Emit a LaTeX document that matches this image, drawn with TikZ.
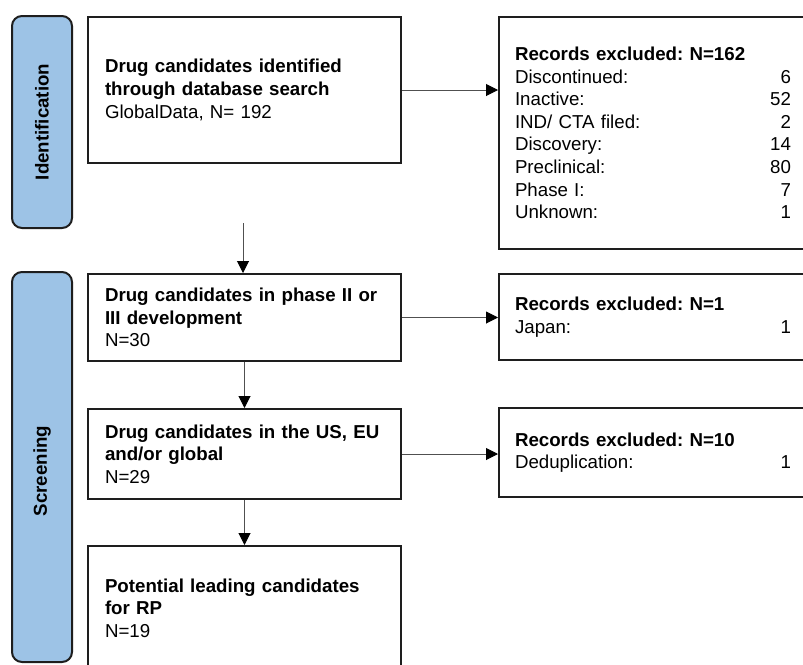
\documentclass[tikz,border=0pt]{standalone}
\usepackage{fontspec}
\setmainfont{Liberation Sans}
\usetikzlibrary{arrows.meta}
\definecolor{pillblue}{HTML}{9DC3E6}
\definecolor{edge}{HTML}{1E1E1E}
\definecolor{arrowgray}{HTML}{505050}
\newcommand{\rowline}[2]{\hbox to 276pt{#1\hfill #2}}
\frenchspacing
\begin{document}
\begin{tikzpicture}[x=1pt,y=-1pt,
  txt/.style={font=\fontsize{18.7}{22.6}\selectfont},
  leftbox/.style={txt, draw=edge, line width=2pt, anchor=north west, minimum width=313pt,
     text width=279pt, inner xsep=16pt, inner ysep=0pt, align=left},
  rightbox/.style={txt, draw=edge, line width=2pt, anchor=north west, minimum width=312pt,
     text width=280pt, inner xsep=16pt, inner ysep=0pt, align=left},
  pill/.style={draw=edge, fill=pillblue, line width=2pt, rounded corners=10pt},
  pilllabel/.style={txt, font=\fontsize{18.7}{22.6}\selectfont\bfseries, rotate=90},
  conn/.style={draw=arrowgray, line width=1pt, -{Triangle[length=12pt,width=12pt,color=black]}}
]
\clip (0,0) rectangle (803,664);
\fill[white] (0,0) rectangle (803,664);

% phase pills
\draw[pill] (12,16) rectangle (72,228);
\node[pilllabel] (idlab) at (42,122) {Identification};
\draw[pill] (12,272) rectangle (72,662);
\node[pilllabel] (sclab) at (42,471) {Screening};

% left column boxes
\node[leftbox, minimum height=146pt] (b1) at (87,16)
  {\textbf{Drug candidates identified}\\ \textbf{through database search}\\ GlobalData, N= 192};
\node[leftbox, minimum height=87pt] (b2) at (87,273)
  {\textbf{Drug candidates in phase II or}\\ \textbf{III development}\\ N=30};
\node[leftbox, minimum height=90pt] (b3) at (87,408)
  {\textbf{Drug candidates in the US, EU}\\ \textbf{and/or global}\\ N=29};
\node[leftbox, minimum height=124pt] (b4) at (87,545)
  {\textbf{Potential leading candidates}\\ \textbf{for RP}\\ N=19};

% right column boxes
\node[rightbox, minimum height=232pt] (r1) at (498,16)
  {\textbf{Records excluded: N=162}\\
   \rowline{Discontinued:}{6}\rowline{Inactive:}{52}\rowline{IND/ CTA filed:}{2}%
   \rowline{Discovery:}{14}\rowline{Preclinical:}{80}\rowline{Phase I:}{7}\rowline{Unknown:}{1}};
\node[rightbox, minimum height=86pt] (r2) at (498,273)
  {\textbf{Records excluded: N=1}\\ \rowline{Japan:}{1}};
\node[rightbox, minimum height=89pt] (r3) at (498,407)
  {\textbf{Records excluded: N=10}\\ \rowline{Deduplication:}{1}};

% connectors
\coordinate (c1) at (243,223);
\draw[conn] (b1.east) -- (b1.east -| r1.west);
\draw[conn] (b2.east) -- (b2.east -| r2.west);
\draw[conn] (b3.east) -- (b3.east -| r3.west);
\draw[conn] (c1) -- (c1 |- b2.north);
\draw[conn] (b2.south) -- (b3.north);
\draw[conn] (b3.south) -- (b4.north);
\end{tikzpicture}
\end{document}
